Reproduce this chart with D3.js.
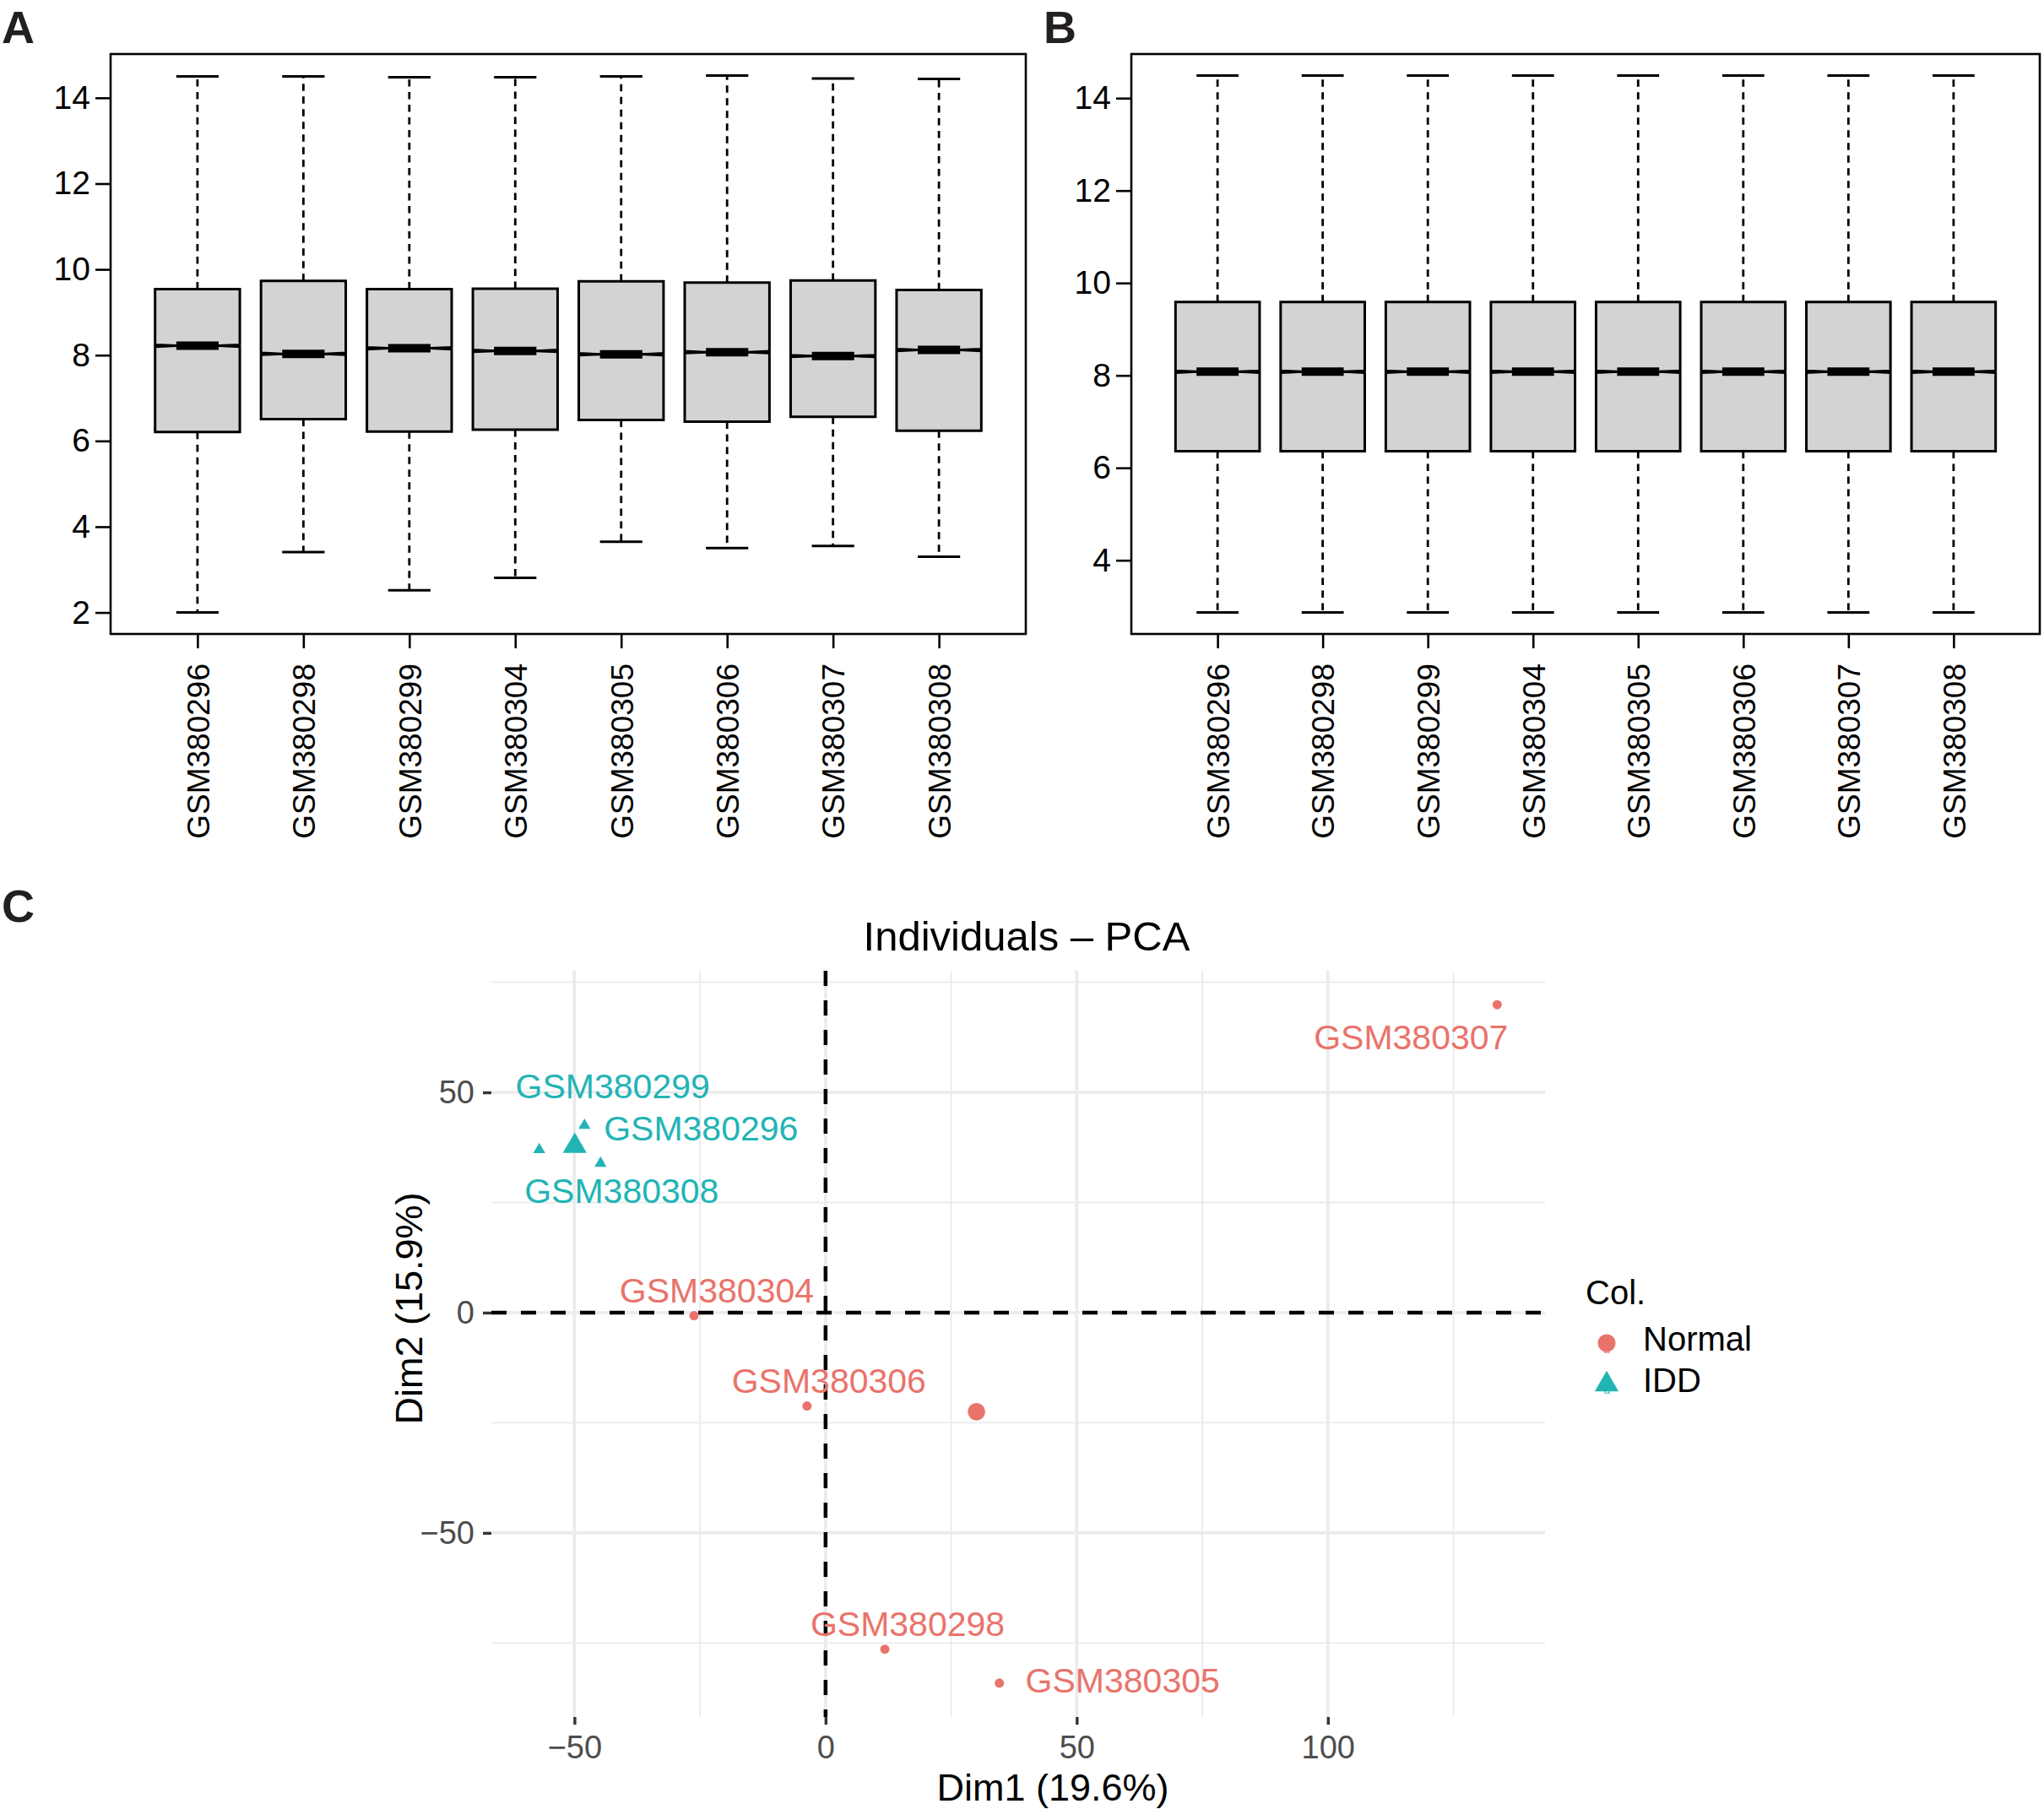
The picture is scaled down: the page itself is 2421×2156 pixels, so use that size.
<!DOCTYPE html>
<html>
<head>
<meta charset="utf-8">
<script src="https://cdn.jsdelivr.net/npm/d3@7"></script>
<style>
  body { margin: 0; background: #fff; }
  svg { display: block; }
  text { font-family: 'Liberation Sans', Arial, Helvetica, sans-serif; }
</style>
</head>
<body>
<svg id="fig" width="2421" height="2156"></svg>
<script>
(function(){
'use strict';

    // ---- data ----
    var samples = ['GSM380296', 'GSM380298', 'GSM380299', 'GSM380304',
                   'GSM380305', 'GSM380306', 'GSM380307', 'GSM380308'];

    // A: raw expression, boxplot stats per sample
    var rawLo  = [2.00, 3.41, 2.52, 2.81, 3.65, 3.50, 3.55, 3.30];
    var rawQ1  = [6.21, 6.51, 6.22, 6.26, 6.49, 6.45, 6.56, 6.24];
    var rawMed = [8.22, 8.03, 8.16, 8.10, 8.02, 8.07, 7.98, 8.12];
    var rawQ3  = [9.54, 9.73, 9.54, 9.55, 9.72, 9.69, 9.74, 9.52];
    var rawHi  = [14.50, 14.50, 14.48, 14.48, 14.50, 14.52, 14.45, 14.44];

    // B: normalized expression
    var normLo  = [2.87, 2.87, 2.87, 2.87, 2.87, 2.87, 2.87, 2.87];
    var normQ1  = [6.36, 6.36, 6.36, 6.36, 6.36, 6.36, 6.36, 6.36];
    var normMed = [8.08, 8.08, 8.08, 8.08, 8.08, 8.08, 8.08, 8.08];
    var normQ3  = [9.59, 9.59, 9.59, 9.59, 9.59, 9.59, 9.59, 9.59];
    var normHi  = [14.49, 14.49, 14.49, 14.49, 14.49, 14.49, 14.49, 14.49];

    var probeCount = 54675;   // used for notch half-height

    // C: PCA individuals
    var pcaNames = ['GSM380296', 'GSM380298', 'GSM380299', 'GSM380304',
                    'GSM380305', 'GSM380306', 'GSM380307', 'GSM380308'];
    var pcaGroup = ['IDD', 'Normal', 'IDD', 'Normal', 'Normal', 'Normal', 'Normal', 'IDD'];
    var dim1 = [-48.0, 11.8, -57.0, -26.2, 34.6, -3.7, 133.7, -44.8];
    var dim2 = [ 42.5, -76.4, 37.0, -0.7, -84.1, -21.2, 69.9, 33.9];
    var groups = ['Normal', 'IDD'];
    var groupColors = ['#E9736B', '#22B4B5'];
    var pcaXTicks = [-50, 0, 50, 100];
    var pcaYTicks = [-50, 0, 50];
    var pcaXMinor = [-75, -25, 25, 75, 125];
    var pcaYMinor = [-75, -25, 25, 75];

    // ggrepel-style label offsets (px, label centre relative to point)
    var labelNudge = {
        GSM380296: [138, 3],   GSM380298: [27, -30],
        GSM380299: [87, -76],  GSM380304: [27, -30],
        GSM380305: [146, -4],  GSM380306: [26, -30],
        GSM380307: [-102, 38], GSM380308: [25, 32]
    };

    var svg = d3.select('#fig');
    svg.append('rect').attr('width', 2421).attr('height', 2156).attr('fill', '#fff');

    function panelLetter(txt, x, y) {
        svg.append('text').attr('x', x).attr('y', y)
            .attr('font-size', 54).attr('font-weight', 'bold').attr('fill', '#231f20')
            .text(txt);
    }

    // ---- base-R style notched boxplot panel ----
    function boxPanel(left, right, top, bottom, lo, q1, med, q3, hi) {
        var n = samples.length;
        var x = d3.scaleLinear().domain([0.5 - 0.04 * n, n + 0.5 + 0.04 * n]).range([left, right]);
        var yMin = d3.min(lo), yMax = d3.max(hi), pad = (yMax - yMin) * 0.04;
        var y = d3.scaleLinear().domain([yMin - pad, yMax + pad]).range([bottom, top]);
        var hw = x(1.4) - x(1);   // half box width, boxwex 0.8

        var g = svg.append('g');

        var boxes = d3.range(n).map(function(i) {
            var nh = 1.58 * (q3[i] - q1[i]) / Math.sqrt(probeCount);
            return {i: i, cx: x(i + 1), lo: lo[i], q1: q1[i], med: med[i], q3: q3[i], hi: hi[i], nh: nh};
        });

        var b = g.selectAll('g.box').data(boxes).enter().append('g').attr('class', 'box');

        // whiskers
        b.append('line')
            .attr('x1', function(d) { return d.cx; }).attr('x2', function(d) { return d.cx; })
            .attr('y1', function(d) { return y(d.q3); }).attr('y2', function(d) { return y(d.hi); })
            .attr('stroke', '#000').attr('stroke-width', 2.8).attr('stroke-dasharray', '8.5,6.5');
        b.append('line')
            .attr('x1', function(d) { return d.cx; }).attr('x2', function(d) { return d.cx; })
            .attr('y1', function(d) { return y(d.q1); }).attr('y2', function(d) { return y(d.lo); })
            .attr('stroke', '#000').attr('stroke-width', 2.8).attr('stroke-dasharray', '8.5,6.5');
        // staples
        ['hi', 'lo'].forEach(function(k) {
            b.append('line')
                .attr('x1', function(d) { return d.cx - hw / 2; }).attr('x2', function(d) { return d.cx + hw / 2; })
                .attr('y1', function(d) { return y(d[k]); }).attr('y2', function(d) { return y(d[k]); })
                .attr('stroke', '#000').attr('stroke-width', 3);
        });
        // notched box
        b.append('path')
            .attr('d', function(d) {
                var l = d.cx - hw, r = d.cx + hw;
                return 'M' + l + ',' + y(d.q3) +
                       'L' + l + ',' + y(d.med + d.nh) +
                       'L' + (l + hw / 2) + ',' + y(d.med) +
                       'L' + l + ',' + y(d.med - d.nh) +
                       'L' + l + ',' + y(d.q1) +
                       'L' + r + ',' + y(d.q1) +
                       'L' + r + ',' + y(d.med - d.nh) +
                       'L' + (r - hw / 2) + ',' + y(d.med) +
                       'L' + r + ',' + y(d.med + d.nh) +
                       'L' + r + ',' + y(d.q3) + 'Z';
            })
            .attr('fill', '#d3d3d3').attr('stroke', '#000').attr('stroke-width', 3)
            .attr('stroke-linejoin', 'miter');
        // thin notch line across + thick median
        b.append('line')
            .attr('x1', function(d) { return d.cx - hw; }).attr('x2', function(d) { return d.cx + hw; })
            .attr('y1', function(d) { return y(d.med); }).attr('y2', function(d) { return y(d.med); })
            .attr('stroke', '#000').attr('stroke-width', 2.5);
        b.append('line')
            .attr('x1', function(d) { return d.cx - hw / 2; }).attr('x2', function(d) { return d.cx + hw / 2; })
            .attr('y1', function(d) { return y(d.med); }).attr('y2', function(d) { return y(d.med); })
            .attr('stroke', '#000').attr('stroke-width', 10);

        // frame
        g.append('rect').attr('x', left).attr('y', top)
            .attr('width', right - left).attr('height', bottom - top)
            .attr('fill', 'none').attr('stroke', '#000').attr('stroke-width', 2.6);

        // y axis
        var yt = d3.range(Math.ceil(y.domain()[0] / 2) * 2, y.domain()[1], 2);
        var ya = g.append('g').attr('transform', 'translate(' + left + ',0)')
            .call(d3.axisLeft(y).tickValues(yt).tickSize(18).tickPadding(6).tickFormat(d3.format('d')));
        ya.select('.domain').remove();
        ya.selectAll('.tick line').attr('stroke', '#000').attr('stroke-width', 2.6);
        ya.selectAll('.tick text').attr('font-size', 39).attr('fill', '#000')
            .attr('font-family', "'Liberation Sans', Arial, Helvetica, sans-serif");

        // x axis, vertical labels
        var xa = g.append('g').attr('transform', 'translate(0,' + bottom + ')')
            .call(d3.axisBottom(x).tickValues(d3.range(1, n + 1)).tickSize(17)
                .tickFormat(function(v) { return samples[v - 1]; }));
        xa.select('.domain').remove();
        xa.selectAll('.tick line').attr('stroke', '#000').attr('stroke-width', 2.6);
        xa.selectAll('.tick text')
            .attr('transform', 'rotate(-90)')
            .attr('text-anchor', 'end')
            .attr('x', -35).attr('y', 0).attr('dy', '0.36em')
            .attr('font-size', 37).attr('fill', '#000')
            .attr('font-family', "'Liberation Sans', Arial, Helvetica, sans-serif");
    }

    panelLetter('A', 2, 51);
    boxPanel(131, 1215, 64, 751, rawLo, rawQ1, rawMed, rawQ3, rawHi);
    panelLetter('B', 1236, 51);
    boxPanel(1340, 2416, 64, 751, normLo, normQ1, normMed, normQ3, normHi);

    // ---- C: PCA individuals ----
    panelLetter('C', 2, 1092);

    var pl = 582, pr = 1830, pt = 1150, pb = 2034;
    var xe = d3.extent(dim1), ye = d3.extent(dim2);
    var xp = (xe[1] - xe[0]) * 0.05, yp = (ye[1] - ye[0]) * 0.05;
    var px = d3.scaleLinear().domain([xe[0] - xp, xe[1] + xp]).range([pl, pr]);
    var py = d3.scaleLinear().domain([ye[0] - yp, ye[1] + yp]).range([pb, pt]);
    var color = d3.scaleOrdinal().domain(groups).range(groupColors);

    var gc = svg.append('g');

    // grid
    var inX = function(v) { return v >= px.domain()[0] && v <= px.domain()[1]; };
    var inY = function(v) { return v >= py.domain()[0] && v <= py.domain()[1]; };
    gc.selectAll('line.vminor').data(pcaXMinor.filter(inX)).enter().append('line')
        .attr('x1', px).attr('x2', px).attr('y1', pt).attr('y2', pb)
        .attr('stroke', '#ebebeb').attr('stroke-width', 1.9);
    gc.selectAll('line.hminor').data(pcaYMinor.filter(inY)).enter().append('line')
        .attr('y1', py).attr('y2', py).attr('x1', pl).attr('x2', pr)
        .attr('stroke', '#ebebeb').attr('stroke-width', 1.9);
    gc.selectAll('line.vmajor').data(pcaXTicks).enter().append('line')
        .attr('x1', px).attr('x2', px).attr('y1', pt).attr('y2', pb)
        .attr('stroke', '#ebebeb').attr('stroke-width', 3.6);
    gc.selectAll('line.hmajor').data(pcaYTicks).enter().append('line')
        .attr('y1', py).attr('y2', py).attr('x1', pl).attr('x2', pr)
        .attr('stroke', '#ebebeb').attr('stroke-width', 3.6);

    // dashed zero lines
    gc.append('line').attr('x1', pl).attr('x2', pr).attr('y1', py(0)).attr('y2', py(0))
        .attr('stroke', '#000').attr('stroke-width', 4.5).attr('stroke-dasharray', '18,17');
    gc.append('line').attr('x1', px(0)).attr('x2', px(0)).attr('y1', pt).attr('y2', pb)
        .attr('stroke', '#000').attr('stroke-width', 4.5).attr('stroke-dasharray', '18,17');

    // axes
    var xax = gc.append('g').attr('transform', 'translate(0,' + pb + ')')
        .call(d3.axisBottom(px).tickValues(pcaXTicks).tickSize(9).tickPadding(13)
            .tickFormat(function(v) { return v < 0 ? '\u2212' + Math.abs(v) : v; }));
    xax.select('.domain').remove();
    xax.selectAll('.tick line').attr('stroke', '#333').attr('stroke-width', 3.4);
    xax.selectAll('.tick text').attr('font-size', 38).attr('fill', '#4d4d4d')
        .attr('font-family', "'Liberation Sans', Arial, Helvetica, sans-serif");

    var yax = gc.append('g').attr('transform', 'translate(' + pl + ',0)')
        .call(d3.axisLeft(py).tickValues(pcaYTicks).tickSize(10).tickPadding(10)
            .tickFormat(function(v) { return v < 0 ? '\u2212' + Math.abs(v) : v; }));
    yax.select('.domain').remove();
    yax.selectAll('.tick line').attr('stroke', '#333').attr('stroke-width', 3.4);
    yax.selectAll('.tick text').attr('font-size', 38).attr('fill', '#4d4d4d')
        .attr('font-family', "'Liberation Sans', Arial, Helvetica, sans-serif");

    // titles
    gc.append('text').attr('x', 1216).attr('y', 1126).attr('text-anchor', 'middle')
        .attr('font-size', 49).attr('fill', '#000').text('Individuals \u2013 PCA');
    gc.append('text').attr('x', 1247).attr('y', 2133).attr('text-anchor', 'middle')
        .attr('font-size', 45).attr('fill', '#000').text('Dim1 (19.6%)');
    gc.append('text').attr('transform', 'translate(500,1550) rotate(-90)').attr('text-anchor', 'middle')
        .attr('font-size', 45).attr('fill', '#000').text('Dim2 (15.9%)');

    var symFor = function(grp, size) {
        return d3.symbol().type(grp === 'IDD' ? d3.symbolTriangle : d3.symbolCircle).size(size)();
    };

    var pts = pcaNames.map(function(nm, i) {
        return {name: nm, group: pcaGroup[i], x: dim1[i], y: dim2[i]};
    });

    // group centroids
    var cents = groups.map(function(gr) {
        var m = pts.filter(function(p) { return p.group === gr; });
        return {group: gr, x: d3.mean(m, function(p) { return p.x; }), y: d3.mean(m, function(p) { return p.y; })};
    });

    gc.selectAll('path.pt').data(pts).enter().append('path')
        .attr('class', 'pt')
        .attr('transform', function(d) { return 'translate(' + px(d.x) + ',' + py(d.y) + ')'; })
        .attr('d', function(d) { return symFor(d.group, d.group === 'IDD' ? 88 : 95); })
        .attr('fill', function(d) { return color(d.group); });

    gc.selectAll('path.cent').data(cents).enter().append('path')
        .attr('class', 'cent')
        .attr('transform', function(d) { return 'translate(' + px(d.x) + ',' + py(d.y) + ')'; })
        .attr('d', function(d) { return symFor(d.group, d.group === 'IDD' ? 345 : 335); })
        .attr('fill', function(d) { return color(d.group); });

    gc.selectAll('text.lab').data(pts).enter().append('text')
        .attr('class', 'lab')
        .attr('x', function(d) { return px(d.x) + labelNudge[d.name][0]; })
        .attr('y', function(d) { return py(d.y) + labelNudge[d.name][1]; })
        .attr('dy', '0.36em').attr('text-anchor', 'middle')
        .attr('font-size', 41).attr('fill', function(d) { return color(d.group); })
        .text(function(d) { return d.name; });

    // legend
    var lg = svg.append('g').attr('transform', 'translate(1878,0)');
    lg.append('text').attr('x', 0).attr('y', 1545).attr('font-size', 40).attr('fill', '#000').text('Col.');
    var items = lg.selectAll('g.item').data(groups).enter().append('g')
        .attr('transform', function(d, i) { return 'translate(25,' + (1591 + i * 49) + ')'; });
    items.append('path')
        .attr('d', function(d) { return symFor(d, d === 'IDD' ? 345 : 350); })
        .attr('fill', function(d) { return color(d); });
    items.append('text').attr('x', 0).attr('y', function(d) { return d === 'IDD' ? 11 : 12; })
        .attr('text-anchor', 'middle').attr('font-size', 13)
        .attr('fill', function(d) { return color(d); }).text('a');
    items.append('text').attr('x', 43).attr('y', 9)
        .attr('font-size', 40).attr('fill', '#000').text(function(d) { return d; });

})();
</script>
</body>
</html>
